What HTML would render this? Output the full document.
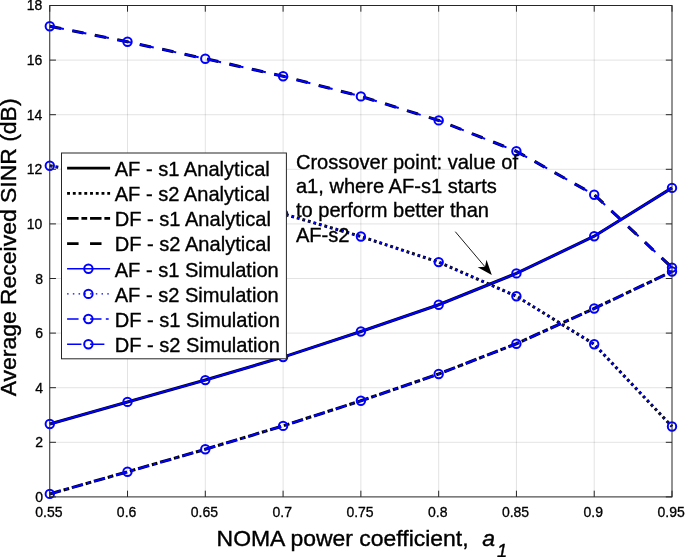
<!DOCTYPE html>
<html><head><meta charset="utf-8"><title>plot</title><style>html,body{margin:0;padding:0;background:#fff}body{width:685px;height:557px;overflow:hidden}</style></head><body>
<svg width="685" height="557" viewBox="0 0 685 557" style="display:block" font-family="'Liberation Sans', sans-serif">
<rect width="685" height="557" fill="#fff"/>
<path d="M127.53 5.5 V496.9 M205.31 5.5 V496.9 M283.09 5.5 V496.9 M360.87 5.5 V496.9 M438.66 5.5 V496.9 M516.44 5.5 V496.9 M594.22 5.5 V496.9 M49.75 442.30 H672.0 M49.75 387.70 H672.0 M49.75 333.10 H672.0 M49.75 278.50 H672.0 M49.75 223.90 H672.0 M49.75 169.30 H672.0 M49.75 114.70 H672.0 M49.75 60.10 H672.0" stroke="#262626" stroke-opacity="0.13" stroke-width="1" fill="none"/>
<polyline points="49.8,424.0 127.5,401.9 205.3,380.1 283.1,357.1 360.9,331.5 438.7,304.8 516.4,273.4 594.2,236.2 672.0,187.9" fill="none" stroke="#000" stroke-width="3.1"/>
<polyline points="49.8,165.8 127.5,179.7 205.3,195.5 283.1,213.8 360.9,236.5 438.7,262.1 516.4,296.2 594.2,344.3 672.0,426.5" fill="none" stroke="#000" stroke-width="3.1" stroke-dasharray="2.87 2.87"/>
<polyline points="49.8,493.9 127.5,471.8 205.3,449.3 283.1,425.9 360.9,400.8 438.7,374.0 516.4,343.7 594.2,308.5 672.0,271.5" fill="none" stroke="#000" stroke-width="3.1" stroke-dasharray="11.47 2.87 5.74 2.87"/>
<polyline points="49.8,26.2 127.5,41.8 205.3,58.7 283.1,76.2 360.9,96.4 438.7,120.4 516.4,151.3 594.2,194.7 672.0,267.6" fill="none" stroke="#000" stroke-width="3.1" stroke-dasharray="11.47 11.48"/>
<polyline points="49.8,424.0 127.5,401.9 205.3,380.1 283.1,357.1 360.9,331.5 438.7,304.8 516.4,273.4 594.2,236.2 672.0,187.9" fill="none" stroke="#0000ff" stroke-width="2"/>
<g fill="none" stroke="#0000ff" stroke-width="2"><circle cx="49.8" cy="424.0" r="4.2"/><circle cx="127.5" cy="401.9" r="4.2"/><circle cx="205.3" cy="380.1" r="4.2"/><circle cx="283.1" cy="357.1" r="4.2"/><circle cx="360.9" cy="331.5" r="4.2"/><circle cx="438.7" cy="304.8" r="4.2"/><circle cx="516.4" cy="273.4" r="4.2"/><circle cx="594.2" cy="236.2" r="4.2"/><circle cx="672.0" cy="187.9" r="4.2"/></g>
<polyline points="49.8,165.8 127.5,179.7 205.3,195.5 283.1,213.8 360.9,236.5 438.7,262.1 516.4,296.2 594.2,344.3 672.0,426.5" fill="none" stroke="#0000ff" stroke-width="2" stroke-dasharray="1.7 4.04" stroke-dashoffset="-0.58"/>
<g fill="none" stroke="#0000ff" stroke-width="2"><circle cx="49.8" cy="165.8" r="4.2"/><circle cx="127.5" cy="179.7" r="4.2"/><circle cx="205.3" cy="195.5" r="4.2"/><circle cx="283.1" cy="213.8" r="4.2"/><circle cx="360.9" cy="236.5" r="4.2"/><circle cx="438.7" cy="262.1" r="4.2"/><circle cx="516.4" cy="296.2" r="4.2"/><circle cx="594.2" cy="344.3" r="4.2"/><circle cx="672.0" cy="426.5" r="4.2"/></g>
<polyline points="49.8,493.9 127.5,471.8 205.3,449.3 283.1,425.9 360.9,400.8 438.7,374.0 516.4,343.7 594.2,308.5 672.0,271.5" fill="none" stroke="#0000ff" stroke-width="2" stroke-dasharray="11.47 4.3 2.87 4.31"/>
<g fill="none" stroke="#0000ff" stroke-width="2"><circle cx="49.8" cy="493.9" r="4.2"/><circle cx="127.5" cy="471.8" r="4.2"/><circle cx="205.3" cy="449.3" r="4.2"/><circle cx="283.1" cy="425.9" r="4.2"/><circle cx="360.9" cy="400.8" r="4.2"/><circle cx="438.7" cy="374.0" r="4.2"/><circle cx="516.4" cy="343.7" r="4.2"/><circle cx="594.2" cy="308.5" r="4.2"/><circle cx="672.0" cy="271.5" r="4.2"/></g>
<polyline points="49.8,26.2 127.5,41.8 205.3,58.7 283.1,76.2 360.9,96.4 438.7,120.4 516.4,151.3 594.2,194.7 672.0,267.6" fill="none" stroke="#0000ff" stroke-width="2" stroke-dasharray="14.34 8.61"/>
<g fill="none" stroke="#0000ff" stroke-width="2"><circle cx="49.8" cy="26.2" r="4.2"/><circle cx="127.5" cy="41.8" r="4.2"/><circle cx="205.3" cy="58.7" r="4.2"/><circle cx="283.1" cy="76.2" r="4.2"/><circle cx="360.9" cy="96.4" r="4.2"/><circle cx="438.7" cy="120.4" r="4.2"/><circle cx="516.4" cy="151.3" r="4.2"/><circle cx="594.2" cy="194.7" r="4.2"/><circle cx="672.0" cy="267.6" r="4.2"/></g>
<path d="M49.75 496.9 v-6.2 M49.75 5.5 v6.2 M127.53 496.9 v-6.2 M127.53 5.5 v6.2 M205.31 496.9 v-6.2 M205.31 5.5 v6.2 M283.09 496.9 v-6.2 M283.09 5.5 v6.2 M360.87 496.9 v-6.2 M360.87 5.5 v6.2 M438.66 496.9 v-6.2 M438.66 5.5 v6.2 M516.44 496.9 v-6.2 M516.44 5.5 v6.2 M594.22 496.9 v-6.2 M594.22 5.5 v6.2 M672.00 496.9 v-6.2 M672.00 5.5 v6.2 M49.75 496.90 h6.2 M672.0 496.90 h-6.2 M49.75 442.30 h6.2 M672.0 442.30 h-6.2 M49.75 387.70 h6.2 M672.0 387.70 h-6.2 M49.75 333.10 h6.2 M672.0 333.10 h-6.2 M49.75 278.50 h6.2 M672.0 278.50 h-6.2 M49.75 223.90 h6.2 M672.0 223.90 h-6.2 M49.75 169.30 h6.2 M672.0 169.30 h-6.2 M49.75 114.70 h6.2 M672.0 114.70 h-6.2 M49.75 60.10 h6.2 M672.0 60.10 h-6.2 M49.75 5.50 h6.2 M672.0 5.50 h-6.2" stroke="#262626" stroke-width="1" fill="none"/>
<rect x="49.75" y="5.5" width="622.25" height="491.4" fill="none" stroke="#262626" stroke-width="1"/>
<g font-size="14" fill="#000" stroke="#000" stroke-width="0.3">
<text x="48.9" y="517.2" text-anchor="middle">0.55</text>
<text x="126.6" y="517.2" text-anchor="middle">0.6</text>
<text x="204.4" y="517.2" text-anchor="middle">0.65</text>
<text x="282.2" y="517.2" text-anchor="middle">0.7</text>
<text x="360.0" y="517.2" text-anchor="middle">0.75</text>
<text x="437.8" y="517.2" text-anchor="middle">0.8</text>
<text x="515.5" y="517.2" text-anchor="middle">0.85</text>
<text x="593.3" y="517.2" text-anchor="middle">0.9</text>
<text x="671.1" y="517.2" text-anchor="middle">0.95</text>
<text x="43.1" y="502.0" text-anchor="end">0</text>
<text x="43.1" y="447.4" text-anchor="end">2</text>
<text x="43.1" y="392.8" text-anchor="end">4</text>
<text x="43.1" y="338.2" text-anchor="end">6</text>
<text x="43.1" y="283.6" text-anchor="end">8</text>
<text x="42.3" y="229.0" text-anchor="end">10</text>
<text x="42.3" y="174.4" text-anchor="end">12</text>
<text x="42.3" y="119.8" text-anchor="end">14</text>
<text x="42.3" y="65.2" text-anchor="end">16</text>
<text x="42.3" y="9.8" text-anchor="end">18</text>
</g>
<text x="216.6" y="545.8" font-size="22.94" fill="#000" stroke="#000" stroke-width="0.4">NOMA power coefficient,  <tspan font-style="italic" x="482.2">a</tspan><tspan font-style="italic" font-size="18.3" x="497" y="556.9">1</tspan></text>
<text transform="translate(16.2,247.4) rotate(-90)" text-anchor="middle" font-size="22.94" fill="#000" stroke="#000" stroke-width="0.4">Average Received SINR (dB)</text>
<rect x="61.5" y="153.0" width="224.89999999999998" height="205.8" fill="#fff" stroke="#262626" stroke-width="1"/>
<path d="M67.1 168.2 H110.1" stroke="#000" stroke-width="2.8" fill="none"/>
<text x="114.7" y="176.0" font-size="20.08" fill="#000" stroke="#000" stroke-width="0.35">AF - s1 Analytical</text>
<path d="M67.1 193.3 H110.1" stroke="#000" stroke-width="2.8" stroke-dasharray="2.87 2.87" fill="none"/>
<text x="114.7" y="201.2" font-size="20.08" fill="#000" stroke="#000" stroke-width="0.35">AF - s2 Analytical</text>
<path d="M67.1 218.4 H110.1" stroke="#000" stroke-width="2.8" stroke-dasharray="11.47 2.87 5.74 2.87" fill="none"/>
<text x="114.7" y="226.3" font-size="20.08" fill="#000" stroke="#000" stroke-width="0.35">DF - s1 Analytical</text>
<path d="M67.1 243.6 H110.1" stroke="#000" stroke-width="2.8" stroke-dasharray="11.47 11.48" fill="none"/>
<text x="114.7" y="251.4" font-size="20.08" fill="#000" stroke="#000" stroke-width="0.35">DF - s2 Analytical</text>
<path d="M67.1 268.8 H110.1" stroke="#00f" stroke-width="1.4" fill="none"/>
<circle cx="88.4" cy="268.8" r="4.2" fill="none" stroke="#00f" stroke-width="2"/>
<text x="114.7" y="276.6" font-size="20.08" fill="#000" stroke="#000" stroke-width="0.35">AF - s1 Simulation</text>
<path d="M67.1 293.9 H110.1" stroke="#00f" stroke-width="1.4" stroke-dasharray="1.5 4.24" fill="none"/>
<circle cx="88.4" cy="293.9" r="4.2" fill="none" stroke="#00f" stroke-width="2"/>
<text x="114.7" y="301.8" font-size="20.08" fill="#000" stroke="#000" stroke-width="0.35">AF - s2 Simulation</text>
<path d="M67.1 319.0 H110.1" stroke="#00f" stroke-width="1.4" stroke-dasharray="11.47 4.3 2.87 4.31" fill="none"/>
<circle cx="88.4" cy="319.0" r="4.2" fill="none" stroke="#00f" stroke-width="2"/>
<text x="114.7" y="326.9" font-size="20.08" fill="#000" stroke="#000" stroke-width="0.35">DF - s1 Simulation</text>
<path d="M67.1 344.2 H110.1" stroke="#00f" stroke-width="1.4" stroke-dasharray="14.34 8.61" fill="none"/>
<circle cx="88.4" cy="344.2" r="4.2" fill="none" stroke="#00f" stroke-width="2"/>
<text x="114.7" y="352.1" font-size="20.08" fill="#000" stroke="#000" stroke-width="0.35">DF - s2 Simulation</text>
<text x="295.9" y="168.7" font-size="20.08" fill="#000" stroke="#000" stroke-width="0.35">Crossover point: value of</text>
<text x="295.9" y="193.0" font-size="20.08" fill="#000" stroke="#000" stroke-width="0.35">a1, where AF-s1 starts</text>
<text x="295.9" y="217.3" font-size="20.08" fill="#000" stroke="#000" stroke-width="0.35">to perform better than</text>
<text x="295.9" y="241.6" font-size="20.08" fill="#000" stroke="#000" stroke-width="0.35">AF-s2</text>
<path d="M455.3 231.7 L485.0 266.8" stroke="#000" stroke-width="0.9"/>
<path d="M491.8 274.9 L477.7 267.2 L485.0 266.8 L486.5 259.7 Z" fill="#000"/>
</svg>
</body></html>
